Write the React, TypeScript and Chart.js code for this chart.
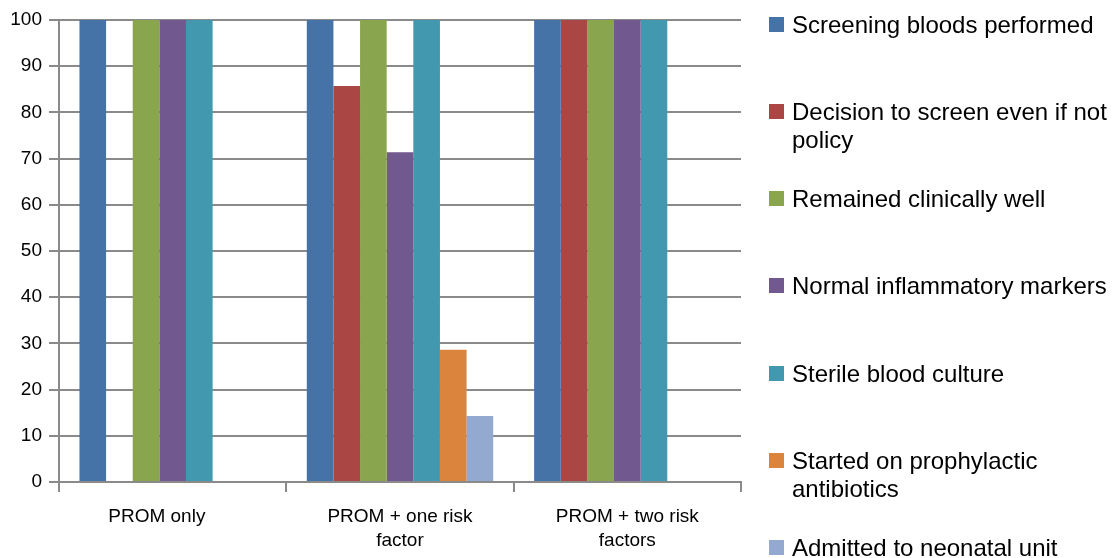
import React, { useEffect, useRef } from "react";
import { Chart, registerables } from "chart.js";

Chart.register(...registerables);

const categories: string[][] = [
  ["PROM only      "],
  ["PROM + one risk", "factor"],
  ["PROM + two risk", "factors"],
];

const seriesNames: string[] = [
  "Screening bloods performed",
  "Decision to screen even if not policy",
  "Remained clinically well",
  "Normal inflammatory markers",
  "Sterile blood culture",
  "Started on prophylactic antibiotics",
  "Admitted to neonatal unit",
];

const screeningBloods: (number | null)[] = [100, 100, 100];
const decisionToScreen: (number | null)[] = [null, 85.7, 100];
const remainedWell: (number | null)[] = [100, 100, 100];
const normalMarkers: (number | null)[] = [100, 71.4, 100];
const sterileCulture: (number | null)[] = [100, 100, 100];
const startedAntibiotics: (number | null)[] = [null, 28.6, null];
const admittedNeonatal: (number | null)[] = [null, 14.3, null];

const yTicks = { min: 0, max: 100, step: 10 };

const seriesValues = [
  screeningBloods,
  decisionToScreen,
  remainedWell,
  normalMarkers,
  sterileCulture,
  startedAntibiotics,
  admittedNeonatal,
];

const colors = ["#4572A7", "#AA4643", "#89A54E", "#71588F", "#4198AF", "#DB843D", "#93A9CF"];

const FONT = "'Liberation Sans', Arial, sans-serif";
const GRID = "#8a8a8a";

export default function App() {
  const ref = useRef<HTMLCanvasElement | null>(null);

  useEffect(() => {
    if (!ref.current) return;
    const chart = new Chart(ref.current, {
      type: "bar",
      data: {
        labels: categories as any,
        datasets: seriesNames.map((name, i) => ({
          label: name,
          data: seriesValues[i] as any,
          backgroundColor: colors[i],
          borderWidth: 0,
          categoryPercentage: 0.82,
          barPercentage: 1,
        })),
      },
      options: {
        responsive: false,
        animation: false,
        layout: { padding: { top: 20, right: 371, left: 0, bottom: 0 } },
        plugins: { legend: { display: false }, tooltip: { enabled: false } },
        scales: {
          x: {
            grid: {
              display: true,
              drawOnChartArea: false,
              drawTicks: true,
              tickLength: 10,
              color: GRID,
              lineWidth: 2,
              offset: true,
            },
            border: { display: true, color: GRID, width: 2 },
            ticks: {
              color: "#000",
              font: { family: FONT, size: 19, lineHeight: 1.3 },
              padding: 12,
              maxRotation: 0,
              autoSkip: false,
            },
            afterFit: (s: any) => {
              s.height = 76;
            },
          },
          y: {
            min: yTicks.min,
            max: yTicks.max,
            ticks: {
              stepSize: yTicks.step,
              color: "#000",
              font: { family: FONT, size: 19 },
              padding: 7,
            },
            grid: { color: GRID, lineWidth: 2, tickLength: 10 },
            border: { display: true, color: GRID, width: 2 },
            afterFit: (s: any) => {
              s.width = 59;
            },
          },
        },
      },
    });
    return () => chart.destroy();
  }, []);

  const baseTop = 10.7;
  const spacing = 87.2;

  return (
    <div
      style={{
        position: "fixed",
        left: 0,
        top: 0,
        width: 1112,
        height: 558,
        background: "#fff",
        overflow: "hidden",
        fontFamily: FONT,
      }}
    >
      <canvas ref={ref} width={1112} height={558} style={{ position: "absolute", left: 0, top: 0 }} />
      {seriesNames.map((name, i) => (
        <div
          key={name}
          style={{ position: "absolute", left: 769, top: baseTop + spacing * i, width: 343 }}
        >
          <div
            style={{
              position: "absolute",
              left: 0,
              top: 6,
              width: 15,
              height: 15,
              background: colors[i],
            }}
          />
          <div
            style={{
              position: "absolute",
              left: 23,
              top: 0,
              width: 318,
              fontSize: 24,
              lineHeight: "28px",
              color: "#000",
            }}
          >
            {name}
          </div>
        </div>
      ))}
    </div>
  );
}
